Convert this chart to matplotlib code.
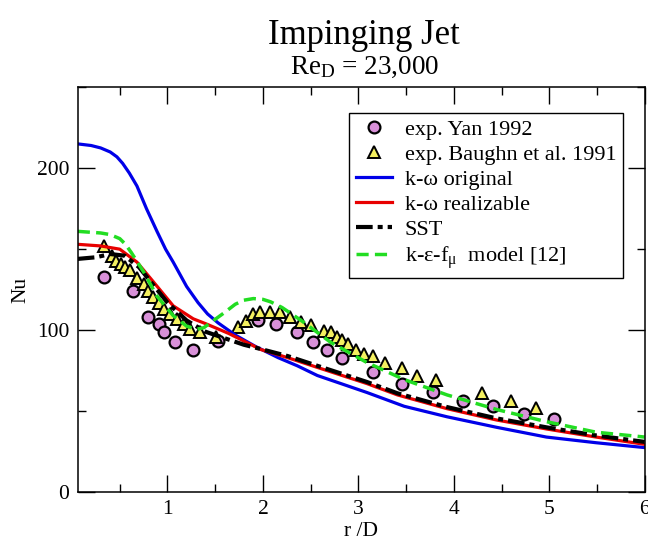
import matplotlib
matplotlib.use("Agg")
import matplotlib.pyplot as plt
from matplotlib.ticker import MultipleLocator

plt.rcParams["font.family"] = ["Liberation Serif", "DejaVu Serif"]
plt.rcParams["mathtext.fontset"] = "custom"
plt.rcParams["mathtext.rm"] = "Liberation Serif"
plt.rcParams["mathtext.it"] = "Liberation Serif"

# Experimental data: Yan (1992)
yan_r = [0.33, 0.64, 0.80, 0.91, 0.96, 1.08, 1.27, 1.53, 1.95, 2.14, 2.36,
         2.52, 2.67, 2.83, 3.15, 3.46, 3.78, 4.10, 4.41, 4.73, 5.05]
yan_nu = [133, 124, 108, 104, 99, 92.5, 88, 93, 106, 104, 99,
          92.5, 88, 83, 74, 67, 62, 56.5, 53.4, 48.4, 45]

# Experimental data: Baughn et al. (1991)
baughn_r = [0.34, 0.42, 0.46, 0.51, 0.56, 0.61, 0.68, 0.75, 0.80, 0.85, 0.91,
            0.96, 1.03, 1.10, 1.17, 1.24, 1.34, 1.51, 1.74, 1.82, 1.90, 1.97,
            2.07, 2.18, 2.28, 2.40, 2.50, 2.64, 2.71, 2.78, 2.83, 2.89, 2.97,
            3.06, 3.15, 3.28, 3.46, 3.61, 3.81, 4.30, 4.60, 4.86]
baughn_nu = [152, 146, 143, 141, 139, 137, 132, 128.5, 124, 120.5, 117,
             113, 110, 107, 104, 100.6, 99, 96, 102, 105.5, 110, 111,
             111, 111, 108, 105, 103, 99.5, 99, 96, 94, 91.5, 88,
             85.5, 84, 79.5, 76.5, 72, 69, 61.5, 56.5, 52]

# k-omega original
kw_r = [0.06, 0.20, 0.30, 0.40, 0.47, 0.53, 0.60, 0.68, 0.78, 0.89, 0.98,
        1.06, 1.20, 1.32, 1.42, 1.53, 1.71, 1.92, 2.16, 2.36, 2.57, 3.09,
        3.48, 3.93, 4.45, 4.97, 5.49, 6.00]
kw_nu = [215, 214, 212.5, 210, 207, 203, 197, 189, 175, 161, 150,
         142, 127, 117, 110, 104.5, 97, 90, 83, 78, 72, 61.5,
         53, 46.5, 40, 34, 30.5, 27.5]

# k-omega realizable
kwr_r = [0.06, 0.30, 0.50, 0.68, 0.85, 1.06, 1.27, 1.40, 1.64, 1.98, 2.26,
         2.57, 3.09, 3.41, 3.93, 4.45, 4.97, 5.49, 6.00]
kwr_nu = [153, 152, 150, 142, 130, 115, 107, 104, 98, 88, 83,
          77, 67, 60, 51.5, 44.5, 39, 34, 29.5]

# SST
sst_r = [0.06, 0.25, 0.40, 0.55, 0.70, 0.85, 1.00, 1.20, 1.40, 1.60, 1.80,
         2.00, 2.26, 2.57, 3.09, 3.41, 3.93, 4.45, 4.97, 5.49, 6.00]
sst_nu = [144, 145, 147, 146, 139, 128, 117, 106, 99, 95, 91,
          88, 84, 78, 68, 61, 52.5, 45.5, 40, 35, 31]

# k-epsilon-f_mu model
kef_r = [0.06, 0.30, 0.40, 0.50, 0.56, 0.62, 0.75, 0.89, 1.06, 1.20, 1.30,
         1.38, 1.46, 1.60, 1.71, 1.80, 1.90, 2.00, 2.08, 2.20, 2.40, 2.71,
         3.09, 3.48, 3.93, 4.45, 4.97, 5.49, 6.00]
kef_nu = [161, 160, 159, 156.5, 153, 148, 136, 121, 109, 102.5, 100.5,
          101.5, 105, 111, 116, 118.5, 119.5, 119, 117.5, 114, 106, 92.5,
          80, 69.5, 60, 51, 43.5, 37, 34]

fig = plt.figure(figsize=(6.48, 5.45), dpi=100)
ax = fig.add_axes([0.120, 0.097, 0.875, 0.743])

ax.plot(yan_r, yan_nu, linestyle="none", marker="o", ms=8.5,
        mfc="#d890d8", mec="black", mew=1.6, label="exp. Yan 1992")
ax.plot(baughn_r, baughn_nu, linestyle="none", marker="^", ms=8.5,
        mfc="#f4f060", mec="black", mew=1.4, label="exp. Baughn et al. 1991")
ax.plot(kw_r, kw_nu, color="#0000e8", lw=2.3, label="k-ω original")
ax.plot(kwr_r, kwr_nu, color="#e80000", lw=2.3, label="k-ω realizable")
ax.plot(sst_r, sst_nu, color="black", lw=3.0, dashes=(4, 1.2, 1.2, 1.2),
        label="SST")
ax.plot(kef_r, kef_nu, color="#22dd22", lw=2.5, dashes=(3.5, 1.8),
        label=r"k-ε-f$_{\mathrm{μ}}$  model [12]")

ax.set_xlim(0.06, 6)
ax.set_ylim(0, 250)
ax.xaxis.set_major_locator(MultipleLocator(1))
ax.xaxis.set_minor_locator(MultipleLocator(0.5))
ax.yaxis.set_major_locator(MultipleLocator(100))
ax.yaxis.set_minor_locator(MultipleLocator(50))
ax.tick_params(which="both", direction="in", top=True, right=True,
               labelsize=15.5, width=1.0)
ax.tick_params(which="major", length=12.5, pad=6)
ax.tick_params(which="minor", length=6)
for s in ax.spines.values():
    s.set_linewidth(1.1)

ax.set_xlabel("r /D", fontsize=15.5, labelpad=2)
ax.set_ylabel("Nu", fontsize=15.5, labelpad=5)

fig.text(0.562, 0.920, "Impinging Jet", ha="center", va="baseline", fontsize=25)
fig.text(0.562, 0.864, r"Re$_{\mathrm{D}}$ = 23,000", ha="center",
         va="baseline", fontsize=19.5)

leg = ax.legend(loc="upper right", bbox_to_anchor=(0.962, 0.937),
                fontsize=16, frameon=True, fancybox=False,
                edgecolor="black", framealpha=1, handlelength=1.6,
                handletextpad=0.6, labelspacing=0.2, borderpad=0.3,
                borderaxespad=0)
leg.get_frame().set_linewidth(1.0)

fig.savefig("out.png", dpi=100)
